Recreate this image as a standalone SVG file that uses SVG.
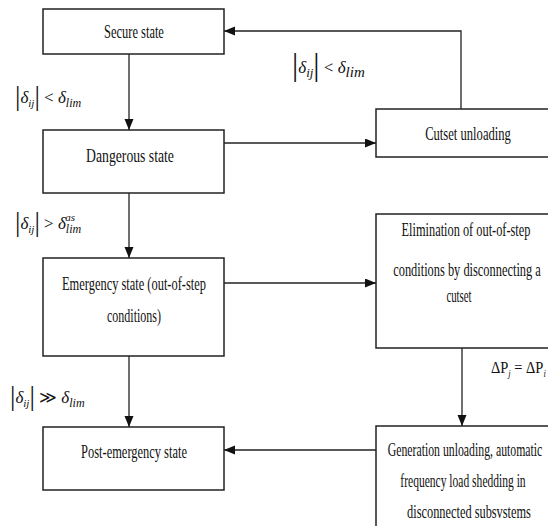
<svg xmlns="http://www.w3.org/2000/svg" width="548" height="526" viewBox="0 0 548 526">
<style>
.box{fill:#fff;stroke:#222;stroke-width:1.5}
.t{font-family:"Liberation Serif","Times New Roman",serif;font-size:18px;fill:#111;text-anchor:middle}
.m{font-family:"Liberation Serif","Times New Roman",serif;font-size:17px;fill:#111}
.mi{font-style:italic}
.c{fill:none;stroke:#222;stroke-width:1.3}
</style>
<defs>
<marker id="ah" markerUnits="userSpaceOnUse" markerWidth="12" markerHeight="10" refX="11" refY="4.5" orient="auto">
<path d="M0,0 L11,4.5 L0,9 z" fill="#111"/>
</marker>
</defs>
<rect width="548" height="526" fill="#fff"/>
<g id="connectors">
<line class="c" x1="129" y1="54" x2="129" y2="130" marker-end="url(#ah)"/>
<line class="c" x1="129" y1="193" x2="129" y2="258" marker-end="url(#ah)"/>
<line class="c" x1="129" y1="356" x2="129" y2="427" marker-end="url(#ah)"/>
<line class="c" x1="224" y1="143" x2="376" y2="143" marker-end="url(#ah)"/>
<polyline class="c" points="461,109 461,31 224,31" marker-end="url(#ah)"/>
<line class="c" x1="224" y1="283" x2="376" y2="283" marker-end="url(#ah)"/>
<line class="c" x1="462" y1="348" x2="462" y2="426" marker-end="url(#ah)"/>
<line class="c" x1="376" y1="450" x2="224" y2="450" marker-end="url(#ah)"/>
</g>
<g id="secure">
<rect class="box" x="43" y="9" width="181" height="45"/>
<text class="t" transform="translate(134,38) scale(0.72,1)" textLength="83" lengthAdjust="spacingAndGlyphs">Secure state</text>
</g>
<g id="dangerous">
<rect class="box" x="43" y="130" width="181" height="63"/>
<text class="t" transform="translate(130,162) scale(0.72,1)" textLength="122" lengthAdjust="spacingAndGlyphs">Dangerous state</text>
</g>
<g id="emergency">
<rect class="box" x="43" y="258" width="181" height="98"/>
<text class="t" transform="translate(134,290) scale(0.72,1)" textLength="200" lengthAdjust="spacingAndGlyphs">Emergency state (out-of-step</text>
<text class="t" transform="translate(134,322) scale(0.72,1)" textLength="75" lengthAdjust="spacingAndGlyphs">conditions)</text>
</g>
<g id="postemergency">
<rect class="box" x="43" y="427" width="181" height="63"/>
<text class="t" transform="translate(134,458) scale(0.72,1)" textLength="147" lengthAdjust="spacingAndGlyphs">Post-emergency state</text>
</g>
<g id="cutset">
<path class="box" d="M548,109 H376 V157 H548"/>
<text class="t" transform="translate(468,140) scale(0.72,1)" textLength="119" lengthAdjust="spacingAndGlyphs">Cutset unloading</text>
</g>
<g id="elimination">
<path class="box" d="M548,214 H376 V348 H548"/>
<text class="t" transform="translate(466,236) scale(0.72,1)" textLength="179" lengthAdjust="spacingAndGlyphs">Elimination of out-of-step</text>
<text class="t" transform="translate(467,276) scale(0.72,1)" textLength="205" lengthAdjust="spacingAndGlyphs">conditions by disconnecting a</text>
<text class="t" transform="translate(459,302) scale(0.72,1)" textLength="35" lengthAdjust="spacingAndGlyphs">cutset</text>
</g>
<g id="generation">
<path class="box" d="M548,426 H376 V526"/>
<text class="t" font-size="17" transform="translate(465,456) scale(0.7,1)" textLength="221" lengthAdjust="spacingAndGlyphs">Generation unloading, automatic</text>
<text class="t" transform="translate(463,487) scale(0.72,1)" textLength="174" lengthAdjust="spacingAndGlyphs">frequency load shedding in</text>
<text class="t" transform="translate(469,518) scale(0.72,1)" textLength="172" lengthAdjust="spacingAndGlyphs">disconnected subsvstems</text>
</g>
<g id="labels">
<text class="m" x="15" y="103"><tspan font-size="27" dy="2">|</tspan><tspan class="mi" dy="-2">δ</tspan><tspan class="mi" font-size="11" dy="4">ij</tspan><tspan font-size="27" dy="-2">|</tspan><tspan dy="-2"> &lt; </tspan><tspan class="mi">δ</tspan><tspan class="mi" font-size="12" dy="4">lim</tspan></text>
<text class="m" x="15" y="229"><tspan font-size="27" dy="2">|</tspan><tspan class="mi" dy="-2">δ</tspan><tspan class="mi" font-size="11" dy="4">ij</tspan><tspan font-size="27" dy="-2">|</tspan><tspan dy="-2"> &gt; </tspan><tspan class="mi">δ</tspan><tspan class="mi" font-size="12" dy="4">lim</tspan><tspan class="mi" font-size="11" dx="-16" dy="-12">as</tspan></text>
<text class="m" x="10" y="403"><tspan font-size="27" dy="2">|</tspan><tspan class="mi" dy="-2">δ</tspan><tspan class="mi" font-size="11" dy="4">ij</tspan><tspan font-size="27" dy="-2">|</tspan><tspan dy="-2"> ≫ </tspan><tspan class="mi">δ</tspan><tspan class="mi" font-size="12" dy="4">lim</tspan></text>
<text class="m" x="292" y="73" font-size="23"><tspan font-size="31" dy="2">|</tspan><tspan class="mi" dy="-2">δ</tspan><tspan class="mi" font-size="13" dy="4">ij</tspan><tspan font-size="31" dy="-2">|</tspan><tspan dy="-2"> &lt; </tspan><tspan class="mi">δ</tspan><tspan class="mi" font-size="15" dy="4">lim</tspan></text>
<text class="m" transform="translate(491,373) scale(0.85,1)" font-size="15">ΔP<tspan class="mi" font-size="10" dy="4">j</tspan><tspan dy="-4"> = ΔP</tspan><tspan class="mi" font-size="10" dy="4">i</tspan></text>
</g>
</svg>
